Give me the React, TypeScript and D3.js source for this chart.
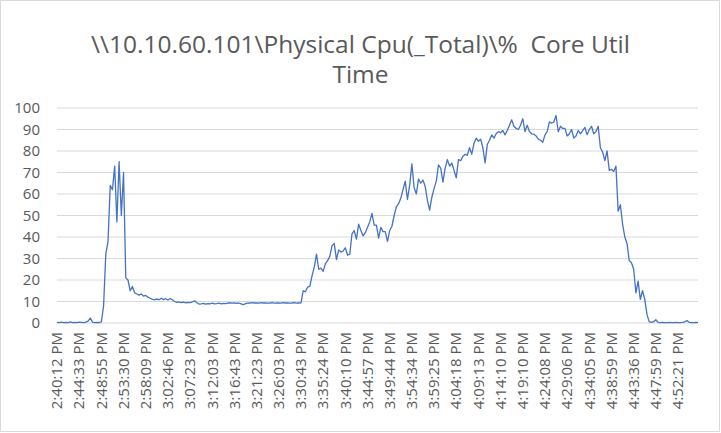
import React from 'react';
import * as d3 from 'd3';

// Tick labels shown on the category axis (one every 10 samples)
const tickLabels = [
  '2:40:12 PM', '2:44:33 PM', '2:48:55 PM', '2:53:30 PM', '2:58:09 PM', '3:02:46 PM',
  '3:07:23 PM', '3:12:03 PM', '3:16:43 PM', '3:21:23 PM', '3:26:03 PM', '3:30:43 PM',
  '3:35:24 PM', '3:40:10 PM', '3:44:57 PM', '3:49:44 PM', '3:54:34 PM', '3:59:25 PM',
  '4:04:18 PM', '4:09:13 PM', '4:14:10 PM', '4:19:10 PM', '4:24:08 PM', '4:29:06 PM',
  '4:34:05 PM', '4:38:59 PM', '4:43:36 PM', '4:47:59 PM', '4:52:21 PM',
];
const labelEvery = 10;

// % Core Util Time samples
const cpuValues = [
  0.3, 0.2, 0.4, 0.2, 0.3, 0.2, 0.5, 0.2, 0.3, 0.2, 0.4, 0.3, 0.2, 0.4, 0.9, 2.3, 0.4, 0.2, 0.3, 0.2, 0.5,
  8, 32, 38, 64, 62, 73, 47, 75, 50, 70, 21, 20, 15, 17, 14, 13.5, 13, 13.5, 12.5, 12.8, 12, 11.5, 11,
  10.8, 11.2, 10.8, 11.5, 10.9, 11.3, 10.7, 11.4, 10.8,
  10, 9.6, 9.8, 9.5, 9.7, 9.4, 9.6, 9.5, 9.8,
  10.3, 9.5,
  8.8, 8.9, 9.1, 8.8, 9.0, 8.9, 9.2, 8.9, 9.0, 9.3, 8.9, 9.1, 9.0,
  9.3, 9.4, 9.2, 9.4, 9.1, 9.3,
  8.9, 8.5, 9.0,
  9.3, 9.2, 9.5, 9.3, 9.4, 9.2, 9.5, 9.3, 9.4, 9.2, 9.3, 9.5, 9.2, 9.4, 9.3, 9.2, 9.5, 9.3, 9.4, 9.2,
  9.3, 9.5, 9.2, 9.3, 9.4,
  15, 14.5, 16.7, 17, 22, 26, 32, 25, 25.5, 24, 27.6, 29, 31, 36, 37, 29.5, 34, 33, 33.5, 35,
  31.5, 32, 41.5, 43, 39, 46, 43, 40.5, 42, 44.5, 47, 51, 45.5, 45.5, 39.5, 44.5, 42.5, 42.5, 38, 43,
  45, 50, 54, 55.5, 58, 62, 66, 57.5, 64, 74, 63, 60, 67, 65, 66.5, 63.5, 57, 52.5, 58.5, 62.5,
  66, 73.5, 72, 65.5, 72, 76, 73, 74.4, 71, 67.5, 76, 75.5, 77.5, 78.5, 78, 81.5, 78.5, 83.5, 86, 84.5,
  85.5, 81.5, 74.5, 83, 85, 87.5, 86, 88, 89, 88.5, 89.5, 87.5, 89.5, 92, 94.5, 91.5, 90.5, 90, 92, 95,
  89, 92, 89, 88, 87.8, 87, 85.5, 85, 84, 87.5, 89, 93.5, 93, 93.5, 96.5, 89, 91.5, 90.5, 90.5, 87,
  88, 90, 86, 87, 89.5, 88, 89.5, 91, 87.5, 90, 91.5, 88, 89, 91.5, 81.5, 79.5, 75.5, 80, 71, 71.5,
  70.5, 73, 52, 55, 46, 40, 37, 29, 28, 25, 14, 19.5, 11, 15, 11, 4, 0.5, 0.3, 0.6, 1.5,
  0.3, 0.2, 0.3, 0.2, 0.2, 0.3, 0.2, 0.2, 0.3, 0.2, 0.2, 0.3, 0.5, 1.2, 0.3, 0.2, 0.2, 0.3, 0.2,
];

const yTicks = [0, 10, 20, 30, 40, 50, 60, 70, 80, 90, 100];

const WIDTH = 721;
const HEIGHT = 433;
const margin = { top: 108, right: 23, bottom: 110, left: 57 };
const FONT = '"Open Sans", "Noto Sans", sans-serif';
const TEXT = '#595959';
const GRID = '#D9D9D9';

const App = () => {
  const innerW = WIDTH - margin.left - margin.right;
  const innerH = HEIGHT - margin.top - margin.bottom;

  const x = d3.scaleLinear().domain([0, cpuValues.length - 1]).range([0, innerW]);
  const y = d3.scaleLinear().domain([0, 100]).range([innerH, 0]);

  const line = d3
    .line<number>()
    .x((_, i) => x(i))
    .y(d => y(d));

  return (
    <svg
      width={WIDTH}
      height={HEIGHT}
      style={{ position: 'absolute', left: 0, top: 0, background: '#fff' }}
      fontFamily={FONT}
    >
      <rect x={0.5} y={0.5} width={719} height={431} fill="#fff" stroke={GRID} />

      <text x={WIDTH / 2} y={53} textAnchor="middle" fontSize={24.5} fill={TEXT}>
        {'\\\\10.10.60.101\\Physical Cpu(_Total)\\%\u00a0 Core Util'}
      </text>
      <text x={WIDTH / 2} y={83} textAnchor="middle" fontSize={24.5} fill={TEXT}>
        Time
      </text>

      <g transform={`translate(${margin.left},${margin.top})`}>
        {yTicks.map(t => (
          <g key={t}>
            <line x1={0} x2={innerW} y1={y(t)} y2={y(t)} stroke={GRID} strokeWidth={1} />
            <text x={-17} y={y(t)} dy="0.35em" textAnchor="end" fontSize={15} fill={TEXT}>
              {t}
            </text>
          </g>
        ))}

        {tickLabels.map((label, k) => {
          const px = x(k * labelEvery);
          return (
            <text
              key={label}
              transform={`translate(${px},${innerH + 9}) rotate(-90)`}
              dy="0.35em"
              textAnchor="end"
              fontSize={15}
              fill={TEXT}
            >
              {label}
            </text>
          );
        })}

        <path d={line(cpuValues) || undefined} fill="none" stroke="#4472C4" strokeWidth={1.3} strokeLinejoin="round" />
      </g>
    </svg>
  );
};

export default App;
